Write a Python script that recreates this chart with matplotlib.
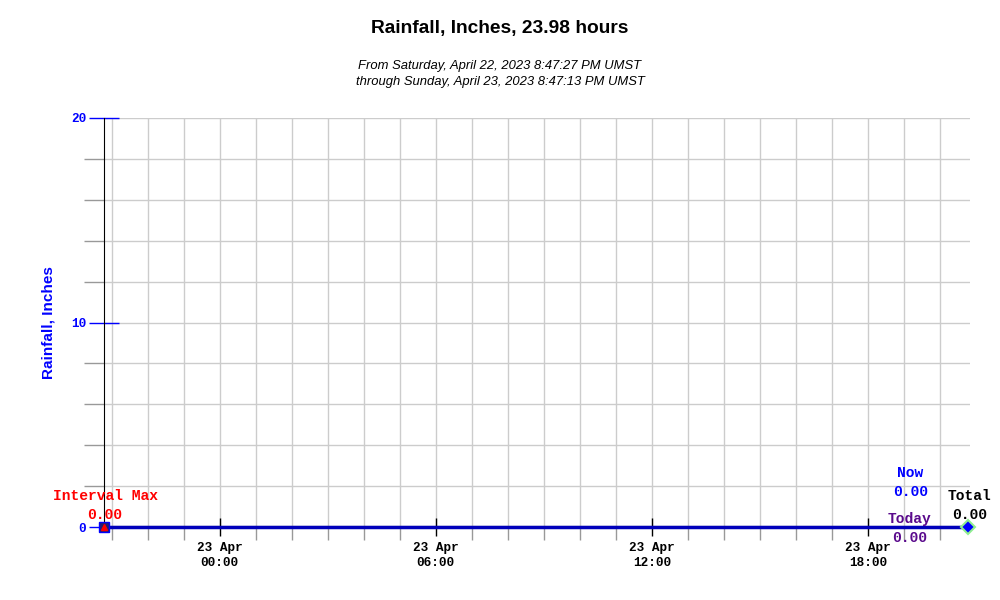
import matplotlib
matplotlib.use("Agg")
import matplotlib.pyplot as plt
import matplotlib.dates as mdates
from datetime import datetime, timedelta

# rainfall series (inches)
times = [datetime(2023, 4, 22, 20, 47, 27), datetime(2023, 4, 23, 20, 47, 13)]
rain = [0.0, 0.0]

interval_max = 0.00
now_val = 0.00
today_val = 0.00
total_val = 0.00

title = "Rainfall, Inches, 23.98 hours"
subtitle = ("From Saturday, April 22, 2023 8:47:27 PM UMST\n"
            "through Sunday, April 23, 2023 8:47:13 PM UMST")

mono = "Liberation Mono"
sans = "Liberation Sans"

fig = plt.figure(figsize=(10, 6), dpi=100)
ax = fig.add_axes([0.104, (600 - 527) / 600, 0.866, (527 - 118) / 600])

ax.plot(times, rain, color="#0000bb", lw=2.5, zorder=5, clip_on=False)

# interval max marker at start, total marker at end
ax.plot(times[0], interval_max, marker="s", ms=7, mfc="#202070", mec="#0000ff",
        zorder=6, clip_on=False)
ax.plot(times[0], interval_max, marker="^", ms=4, color="#ff0000", zorder=7,
        clip_on=False)
ax.plot(times[-1], total_val, marker="D", ms=7, mfc="#0000ff", mec="#90ee90",
        mew=1.5, zorder=6, clip_on=False)

ax.set_xlim(times[0], times[0] + timedelta(hours=24.04))
ax.set_ylim(0, 20)

ax.xaxis.set_major_locator(mdates.HourLocator(byhour=[0, 6, 12, 18]))
ax.xaxis.set_major_formatter(mdates.DateFormatter("%d %b\n%H:%M"))
ax.xaxis.set_minor_locator(mdates.HourLocator())
ax.set_yticks([0, 10, 20])
ax.set_yticks(range(0, 21, 2), minor=True)

ax.grid(True, which="both", color="#cccccc", lw=1)
ax.set_axisbelow(True)

ax.tick_params(axis="x", which="major", direction="inout", length=13, width=1,
               color="black", pad=4.2, labelsize=9.2)
ax.tick_params(axis="x", which="minor", direction="out", length=9.5, width=1,
               color="#999999")
ax.tick_params(axis="y", which="major", direction="inout", length=21.6, width=1,
               color="#0000ff", labelcolor="#0000ff", pad=2, labelsize=9.2)
ax.tick_params(axis="y", which="minor", direction="out", length=14.4, width=1,
               color="#999999")
for lab in ax.get_xticklabels():
    lab.set_fontfamily(mono)
    lab.set_fontweight("bold")
    lab.set_linespacing(1.3)
for lab in ax.get_yticklabels():
    lab.set_fontfamily(mono)
    lab.set_fontweight("bold")

for s in ["top", "right"]:
    ax.spines[s].set_visible(False)
ax.spines["left"].set_color("black")
ax.spines["bottom"].set_color("black")
ax.spines["bottom"].set_linewidth(1.5)

ax.set_ylabel("Rainfall, Inches", color="#0000ff", fontfamily=sans,
              fontweight="bold", fontsize=11, labelpad=11)

fig.text(0.5, 1 - 29 / 600, title, ha="center", va="center",
         fontfamily=sans, fontweight="bold", fontsize=13.8)
fig.text(0.5, 1 - 74 / 600, subtitle, ha="center", va="center",
         fontfamily=sans, fontstyle="italic", fontsize=9.4, linespacing=1.42)


def label(x, y, dx, dy, text, color):
    ax.annotate(text, (x, y), xytext=(dx, dy), textcoords="offset pixels",
                ha="center", va="center", fontfamily=mono, fontweight="bold",
                fontsize=10.5, color=color, annotation_clip=False, zorder=8)


label(times[0], interval_max, 1, 31, "Interval Max", "#ff0000")
label(times[0], interval_max, 1, 12, f"{interval_max:.2f}", "#ff0000")
label(times[-1], now_val, -58, 54, "Now", "#0000ff")
label(times[-1], now_val, -58, 35, f"{now_val:.2f}", "#0000ff")
label(times[-1], today_val, -59, 8, "Today", "#5a0a8c")
label(times[-1], today_val, -59, -11, f"{today_val:.2f}", "#5a0a8c")
label(times[-1], total_val, 1, 31, "Total", "black")
label(times[-1], total_val, 1, 12, f"{total_val:.2f}", "black")

fig.savefig("out.png", dpi=100)
